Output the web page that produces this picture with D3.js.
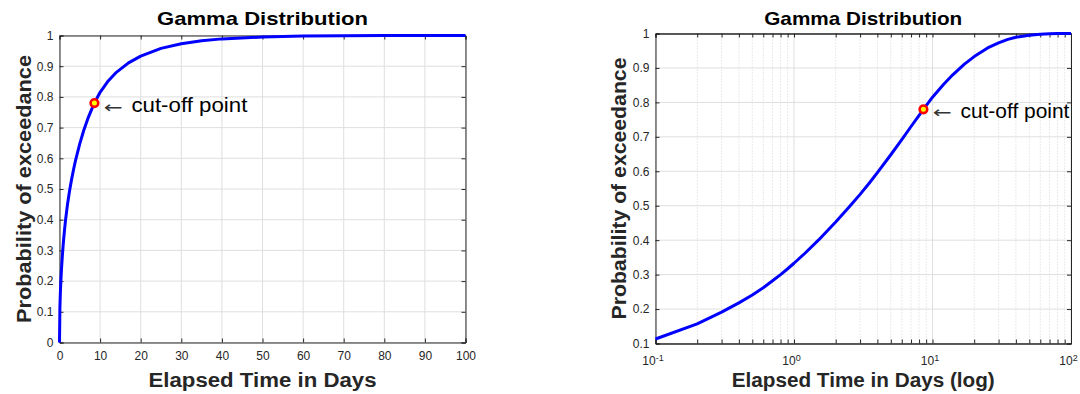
<!DOCTYPE html>
<html>
<head>
<meta charset="utf-8">
<script src="https://cdn.jsdelivr.net/npm/d3@7"></script>
<style>
  html, body { margin: 0; padding: 0; background: #fff; }
  svg { display: block; font-family: "Liberation Sans", Arial, Helvetica, sans-serif; }
</style>
</head>
<body>
<svg id="chart" width="1080" height="394"></svg>
<script>
// Elapsed time (days) and the probability of exceedance
const days = [0, 0.1, 0.2, 0.3, 0.4, 0.5, 0.6, 0.7, 0.8, 0.9, 1, 1.2, 1.5, 2, 2.5, 3, 3.5, 4,
  5, 6, 7, 8, 8.6, 10, 12, 14, 17, 20, 25, 30, 35, 40, 50, 60, 70, 80, 90, 100];
const exceedance = [0, 0.113, 0.157, 0.191, 0.218, 0.241, 0.262, 0.282, 0.300, 0.317, 0.333,
  0.362, 0.400, 0.453, 0.496, 0.533, 0.566, 0.596, 0.648, 0.692, 0.730, 0.762, 0.780, 0.815,
  0.852, 0.880, 0.911, 0.933, 0.958, 0.973, 0.983, 0.989, 0.995, 0.998, 0.999, 1, 1, 1];

// Cut-off point marked on both panels
const cutoffDay = 8.6;
const cutoffProb = 0.78;
const cutoffLabel = "cut-off point";

// Tick values
const linXTicks = [0, 10, 20, 30, 40, 50, 60, 70, 80, 90, 100];
const linYTicks = [0, 0.1, 0.2, 0.3, 0.4, 0.5, 0.6, 0.7, 0.8, 0.9, 1];
const logXTicks = [0.1, 1, 10, 100];
const logYTicks = [0.1, 0.2, 0.3, 0.4, 0.5, 0.6, 0.7, 0.8, 0.9, 1];
const logExponents = [-1, 0, 1, 2];

const titleText = "Gamma Distribution";
const yLabelText = "Probability of exceedance";
const xLabelLin = "Elapsed Time in Days";
const xLabelLog = "Elapsed Time in Days (log)";

const svg = d3.select("#chart");
const axisColor = "#262626";
const gridColor = "#dfdfdf";
const tickLen = 4;

const points = days.map((d, i) => ({ x: d, y: exceedance[i] }));

function drawPanel(opts) {
  const { x, y, xTicks, yTicks, minorX, data, fmtX, isLog, text } = opts;
  const [x0, x1] = x.range();
  const [yb, yt] = y.range();
  const g = svg.append("g");

  // minor dotted grid (log panel only)
  if (minorX) {
    g.append("g").selectAll("line").data(minorX).join("line")
      .attr("x1", d => x(d)).attr("x2", d => x(d))
      .attr("y1", yt).attr("y2", yb)
      .attr("stroke", "#d4d4d4").attr("stroke-width", 1)
      .attr("stroke-dasharray", "1,2");
  }
  // major grid
  g.append("g").selectAll("line").data(xTicks).join("line")
    .attr("x1", d => x(d)).attr("x2", d => x(d))
    .attr("y1", yt).attr("y2", yb)
    .attr("stroke", gridColor).attr("stroke-width", 1);
  g.append("g").selectAll("line").data(yTicks).join("line")
    .attr("x1", x0).attr("x2", x1)
    .attr("y1", d => y(d)).attr("y2", d => y(d))
    .attr("stroke", gridColor).attr("stroke-width", 1);

  // axes with inward ticks on all four sides
  const bottom = g.append("g").attr("transform", `translate(0,${yb})`)
    .call(d3.axisBottom(x).tickValues(xTicks).tickSize(-tickLen).tickPadding(9).tickFormat(fmtX));
  g.append("g").attr("transform", `translate(0,${yt})`)
    .call(d3.axisTop(x).tickValues(xTicks).tickSize(-tickLen).tickFormat(""));
  g.append("g").attr("transform", `translate(${x0},0)`)
    .call(d3.axisLeft(y).tickValues(yTicks).tickSize(-tickLen).tickPadding(6).tickFormat(d3.format("~g")));
  g.append("g").attr("transform", `translate(${x1},0)`)
    .call(d3.axisRight(y).tickValues(yTicks).tickSize(-tickLen).tickFormat(""));
  if (minorX) {
    g.append("g").attr("transform", `translate(0,${yb})`)
      .call(d3.axisBottom(x).tickValues(minorX).tickSize(-tickLen).tickFormat(""));
    g.append("g").attr("transform", `translate(0,${yt})`)
      .call(d3.axisTop(x).tickValues(minorX).tickSize(-tickLen).tickFormat(""));
  }
  g.selectAll(".domain").attr("stroke", axisColor);
  g.selectAll(".tick line").attr("stroke", axisColor);
  g.selectAll(".tick text").attr("fill", axisColor)
    .style("font-family", "'Liberation Sans', Arial, sans-serif").style("font-size", "12px");

  if (isLog) {
    bottom.selectAll(".tick text").each(function (d, i) {
      const t = d3.select(this).text(null).attr("dy", "1.05em").attr("dx", "-0.25em");
      t.append("tspan").text("10");
      t.append("tspan").attr("dy", "-0.5em").style("font-size", "9px").text(logExponents[i]);
    });
  }

  // curve
  const line = d3.line().x(d => x(d.x)).y(d => y(d.y)).curve(d3.curveLinear);
  g.append("path").datum(data).attr("d", line)
    .attr("fill", "none").attr("stroke", "#0000ff").attr("stroke-width", 3)
    .attr("stroke-linejoin", "round");

  // cut-off marker and annotation
  const cx = x(cutoffDay), cy = y(cutoffProb);
  g.append("circle").attr("cx", cx).attr("cy", cy).attr("r", 3.8)
    .attr("fill", "#ffff00").attr("stroke", "#ff0000").attr("stroke-width", 2.6);
  g.append("text").attr("x", cx + 9).attr("y", cy + text.arrowDy)
    .attr("textLength", 19).attr("lengthAdjust", "spacingAndGlyphs")
    .style("font-family", "'DejaVu Sans', sans-serif").style("font-size", "16px")
    .attr("fill", "#333").text("\u2190");
  g.append("text").attr("x", cx + 37).attr("y", cy + 9)
    .attr("textLength", text.annot).attr("lengthAdjust", "spacingAndGlyphs")
    .style("font-size", "21px").attr("fill", "#000").text(cutoffLabel);

  // title and axis labels
  const mid = (x0 + x1) / 2;
  g.append("text").attr("x", mid).attr("y", 25).attr("text-anchor", "middle")
    .attr("textLength", text.title).attr("lengthAdjust", "spacingAndGlyphs")
    .style("font-size", "19px").style("font-weight", "bold").attr("fill", "#000").text(titleText);
  g.append("text").attr("x", mid).attr("y", 387).attr("text-anchor", "middle")
    .attr("textLength", text.xLabel).attr("lengthAdjust", "spacingAndGlyphs")
    .style("font-size", "20px").style("font-weight", "bold").attr("fill", axisColor).text(opts.xLabel);
  g.append("text").attr("transform", `translate(${opts.yLabelX},${(yb + yt) / 2}) rotate(-90)`)
    .attr("text-anchor", "middle")
    .attr("textLength", text.yLabel).attr("lengthAdjust", "spacingAndGlyphs")
    .style("font-size", "20px").style("font-weight", "bold").attr("fill", axisColor).text(yLabelText);
}

// linear panel
const xLin = d3.scaleLinear().domain([0, 100]).range([59.5, 465.5]);
const yLin = d3.scaleLinear().domain([0, 1]).range([342.5, 35.5]);
drawPanel({
  x: xLin, y: yLin, xTicks: linXTicks, yTicks: linYTicks, minorX: null,
  xLabel: xLabelLin, yLabelX: 31, data: points, fmtX: d3.format("d"), isLog: false,
  text: { title: 211, xLabel: 228, yLabel: 268, annot: 116, arrowDy: 10 }
});

// logarithmic panel
const xLog = d3.scaleLog().domain([0.1, 100]).range([655.5, 1071]);
const yLog = d3.scaleLinear().domain([0.1, 1]).range([343.5, 33.5]);
const minorLog = [];
[0.1, 1, 10].forEach(base => { for (let k = 2; k <= 9; k++) minorLog.push(base * k); });
drawPanel({
  x: xLog, y: yLog, xTicks: logXTicks, yTicks: logYTicks, minorX: minorLog,
  xLabel: xLabelLog, yLabelX: 626, data: points.filter(p => p.x > 0), fmtX: d => "", isLog: true,
  text: { title: 198, xLabel: 263, yLabel: 262, annot: 109, arrowDy: 8.5 }
});
</script>
</body>
</html>
